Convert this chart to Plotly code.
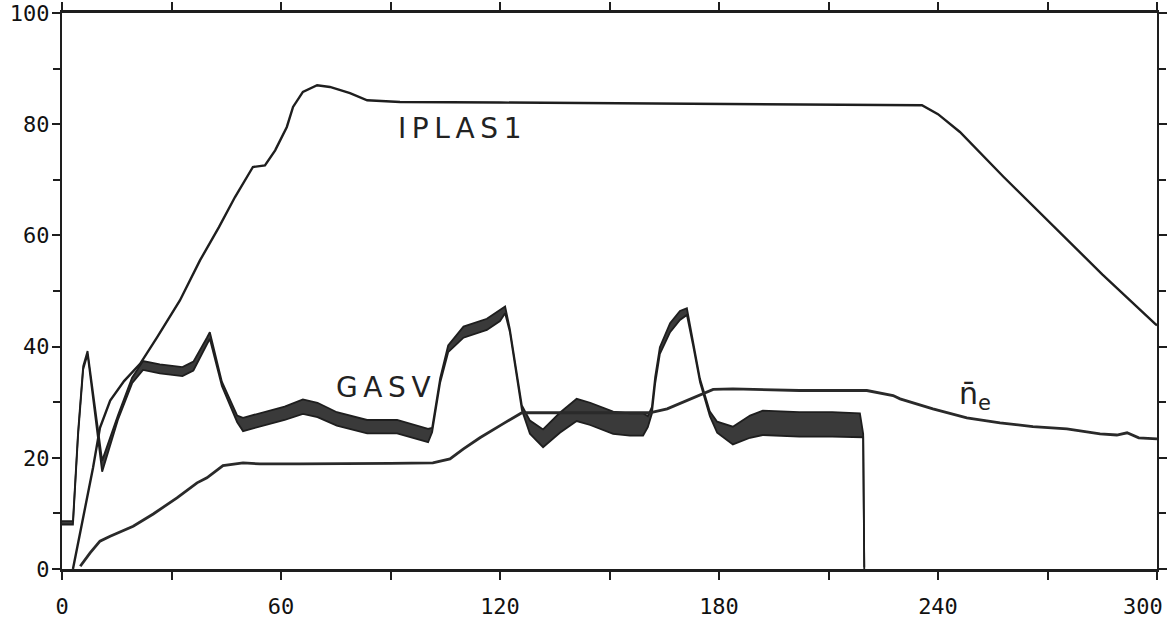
import plotly.graph_objects as go

# IPLAS1 (plasma current)
iplas_t = [3.0, 8.5, 10.4, 13.2, 17.0, 21.4, 26.0, 32.3, 37.8, 43.0, 47.4, 52.3, 55.6, 58.4,
           61.6, 63.3, 66.0, 69.9, 73.4, 78.9, 83.6, 92.6, 120, 150, 180, 210, 230, 235.6,
           240, 246, 258, 270.7, 285, 299.5, 300]
iplas_v = [0.0, 18.2, 25.4, 30.3, 33.8, 36.9, 41.6, 48.3, 55.5, 61.5, 66.9, 72.3, 72.6, 75.3,
           79.5, 83.1, 85.8, 87.0, 86.7, 85.6, 84.3, 84.0, 83.9, 83.8, 83.6, 83.5, 83.5, 83.4,
           81.8, 78.6, 70.5, 62.2, 53.0, 44.1, 43.8]

# GASV (gas valve): centre line and half-width of the ripple band
gasv_t = [0, 3.0, 4.4, 5.8, 7.0, 9.9, 11.0, 15.3, 19.2, 22.2, 26.8, 33.0, 36.0, 39.7, 40.5,
          43.8, 48.0, 49.6, 56.2, 61.0, 66.0, 70.0, 75.3, 83.6, 91.8, 97.3, 100.3, 101.4,
          103.6, 105.8, 110.0, 116.4, 120.0, 121.4, 122.7, 126.0, 128.2, 131.8, 136.4, 141.0,
          144.7, 151.0, 155.6, 159.2, 160.5, 161.6, 162.5, 163.8, 166.6, 169.3, 171.2, 172.9,
          174.8, 177.5, 179.5, 183.8, 188.5, 192.0, 202.0, 211.0, 218.6, 219.5, 219.8]
gasv_mid = [8.3, 8.3, 24.3, 36.2, 38.9, 24.3, 18.5, 27.2, 33.9, 36.6, 36.0, 35.5, 36.5, 41.0, 42.0,
            33.3, 27.0, 26.0, 27.2, 28.0, 29.2, 28.6, 27.0, 25.6, 25.6, 24.5, 24.0, 25.0,
            33.9, 39.6, 42.6, 44.0, 45.6, 46.6, 42.9, 29.0, 25.5, 23.5, 26.3, 28.6,
            27.9, 26.3, 26.0, 26.0, 26.5, 28.5, 33.9, 39.3, 43.4, 45.6, 46.3, 40.5,
            33.9, 27.9, 25.5, 24.0, 25.6, 26.3, 26.0, 26.0, 25.8, 24.0, 0.0]
gasv_half = [0.3, 0.3, 0.3, 0.3, 0.3, 0.3, 1.0, 0.4, 0.5, 0.8, 0.8, 0.8, 0.8, 0.6, 0.6,
             0.4, 0.6, 1.2, 1.2, 1.2, 1.3, 1.3, 1.2, 1.2, 1.2, 1.2, 1.2, 0.4,
             0.4, 0.6, 1.0, 1.0, 1.0, 0.6, 0.3, 0.4, 1.2, 1.6, 1.8, 2.0,
             2.0, 2.0, 2.0, 2.0, 1.0, 0.6, 0.6, 0.6, 0.8, 0.8, 0.6, 0.3,
             0.3, 0.4, 1.0, 1.6, 2.0, 2.2, 2.2, 2.2, 2.2, 0.3, 0.3]

# n_e (line-averaged density)
ne_t = [5.0, 7.7, 10.4, 13.2, 19.5, 25.0, 31.5, 37.0, 39.7, 44.1, 49.6, 54.2, 65, 78.9, 90,
        101.6, 106.3, 110.0, 114.5, 120.8, 126.0, 137.3, 155.6, 161.0, 165.8, 171.2, 174.8,
        178.4, 183.8, 202.0, 220.5, 227.7, 229.6, 238.6, 247.9, 257.0, 266.0, 275.3, 284.4,
        289, 291.8, 295, 300.0]
ne_v = [0.5, 2.9, 5.0, 5.9, 7.7, 9.9, 12.8, 15.5, 16.4, 18.6, 19.1, 18.9, 18.9, 18.9, 19.0,
        19.1, 19.8, 21.6, 23.6, 26.1, 28.1, 28.1, 28.1, 28.1, 28.8, 30.3, 31.2,
        32.3, 32.4, 32.1, 32.1, 31.2, 30.6, 28.8, 27.2, 26.3, 25.6, 25.2, 24.3,
        24.1, 24.5, 23.6, 23.4]

x_labels = list(range(0, 241, 60))   # 300 is placed separately at the right edge
x_last = 300
y_labels = list(range(0, 101, 20))

ink = "#1e1e1e"
fig = go.Figure()

gasv_lo = [m - h for m, h in zip(gasv_mid, gasv_half)]
gasv_hi = [m + h for m, h in zip(gasv_mid, gasv_half)]
fig.add_trace(go.Scatter(x=gasv_t, y=gasv_lo, mode="lines",
                         line=dict(color=ink, width=1.8), hoverinfo="skip"))
fig.add_trace(go.Scatter(x=gasv_t, y=gasv_hi, mode="lines", fill="tonexty",
                         fillcolor="#3a3a3a", line=dict(color=ink, width=1.8),
                         name="GASV"))
fig.add_trace(go.Scatter(x=ne_t, y=ne_v, mode="lines",
                         line=dict(color="#2a2a2a", width=2.8), name="ne"))
fig.add_trace(go.Scatter(x=iplas_t, y=iplas_v, mode="lines",
                         line=dict(color=ink, width=2.4), name="IPLAS1"))

label_font = dict(family="DejaVu Sans, Arial, sans-serif", size=28, color="#222")
thin = "\u2009"
fig.add_annotation(x=109, y=79.3, text=thin.join("IPLAS1"), showarrow=False, font=label_font)
fig.add_annotation(x=88, y=32.6, text=thin.join("GASV"), showarrow=False, font=label_font)
fig.add_annotation(x=250, y=31.2, text="n\u0304<sub>e</sub>", showarrow=False,
                   font=dict(family="DejaVu Sans, Arial, sans-serif", size=30, color="#222"))

tick_font = dict(family="DejaVu Sans Mono, monospace", size=22, color="#111")
# last x label sits flush with the right edge of the page
fig.add_annotation(x=x_last, y=0, text=str(x_last), showarrow=False, xanchor="right",
                   yanchor="middle", xshift=8, yshift=-37, font=tick_font)

fig.update_xaxes(range=[0, 300], tickvals=x_labels, ticks="outside",
                 ticklen=8, tickwidth=1.5, tickcolor=ink, showline=True, linecolor=ink,
                 linewidth=2.5, mirror="ticks", showgrid=False, zeroline=False,
                 tickfont=tick_font, automargin=False, ticklabelstandoff=8,
                 minor=dict(dtick=30, tick0=0, ticks="outside", ticklen=8,
                            tickwidth=1.5, tickcolor=ink, showgrid=False))
fig.update_yaxes(range=[0, 100], tickvals=y_labels, ticks="outside",
                 ticklen=8, tickwidth=1.5, tickcolor=ink, showline=True, linecolor=ink,
                 linewidth=2, mirror="ticks", showgrid=False, zeroline=False,
                 tickfont=tick_font, automargin=False, ticklabelstandoff=-2,
                 ticklabeloverflow="allow",
                 minor=dict(dtick=10, tick0=0, ticks="outside", ticklen=7,
                            tickwidth=1.5, tickcolor=ink, showgrid=False))
fig.update_layout(width=1167, height=618, margin=dict(l=62, r=10, t=13, b=49),
                  plot_bgcolor="white", paper_bgcolor="white", showlegend=False)

fig.write_html("out.html")
